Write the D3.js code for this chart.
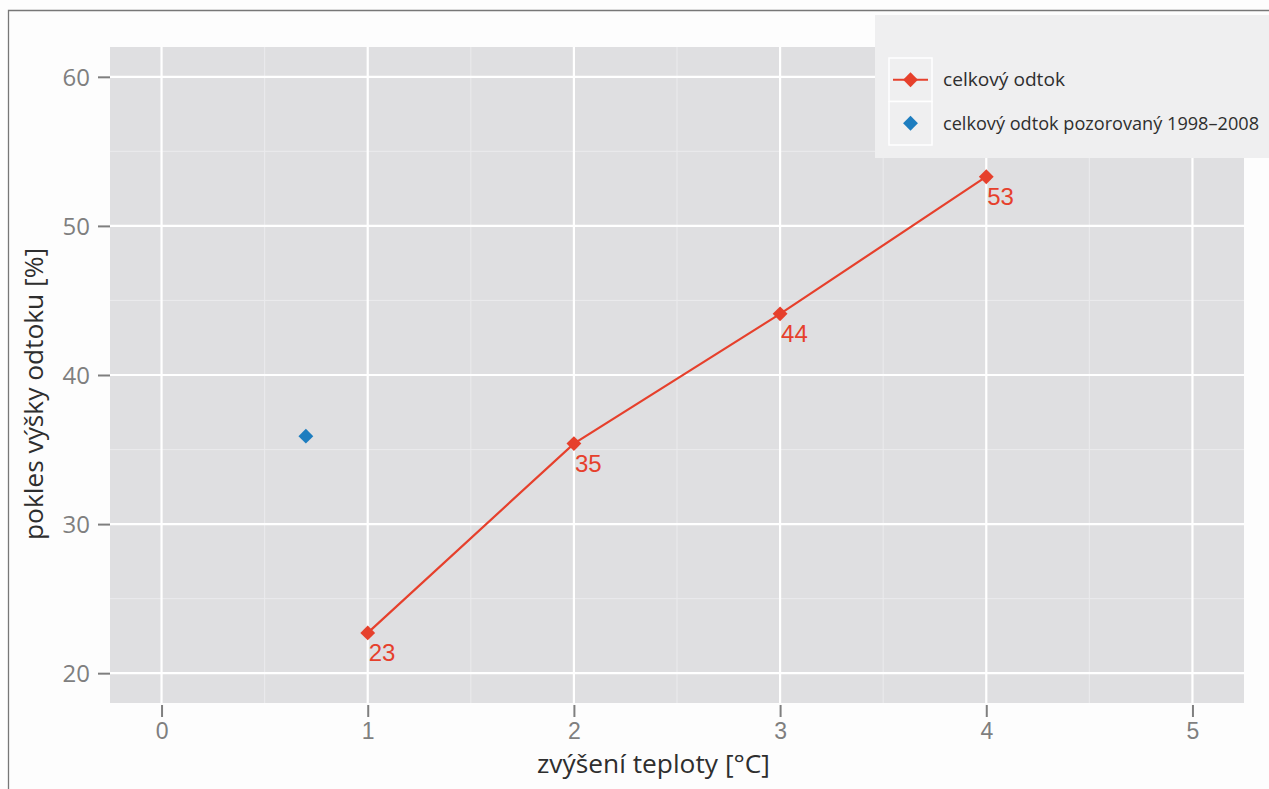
<!DOCTYPE html>
<html>
<head>
<meta charset="utf-8">
<script src="https://cdn.jsdelivr.net/npm/d3@7"></script>
<style>
  html, body { margin: 0; padding: 0; background: #fdfdfd; }
  svg { display: block; }
</style>
</head>
<body>
<svg id="chart" width="1269" height="789"></svg>
<script>
// Runoff decrease vs. temperature increase
const tempIncrease = [1, 2, 3, 4];
const runoffDecrease = [22.7, 35.4, 44.1, 53.3];
const observedTemp = [0.7];
const observedRunoff = [35.9];
const xTicks = [0, 1, 2, 3, 4, 5];
const yTicks = [20, 30, 40, 50, 60];
const xMinor = [0.5, 1.5, 2.5, 3.5, 4.5];
const yMinor = [25, 35, 45, 55];
const legendLabels = ["celkový odtok", "celkový odtok pozorovaný 1998–2008"];
const xTitle = "zvýšení teploty [°C]";
const yTitle = "pokles výšky odtoku [%]";

const RED = "#e6402c";
const BLUE = "#1d7dbf";
const TICK_GREY = "#7f7f7f";
const TITLE_FONT = "'Open Sans', 'Noto Sans', sans-serif";

const svg = d3.select("#chart");

// Frame line on the left and top
svg.append("path")
  .attr("d", "M8.5,789 V10.5 H1269")
  .attr("fill", "none")
  .attr("stroke", "#777")
  .attr("stroke-width", 1.3);

const panel = { left: 110, top: 47, right: 1244, bottom: 703 };

const x = d3.scaleLinear().domain([-0.25, 5.25]).range([panel.left, panel.right]);
const y = d3.scaleLinear().domain([18, 62]).range([panel.bottom, panel.top]);

// Panel background
svg.append("rect")
  .attr("x", panel.left).attr("y", panel.top)
  .attr("width", panel.right - panel.left)
  .attr("height", panel.bottom - panel.top)
  .attr("fill", "#dfdfe1");

const grid = svg.append("g");
// Minor grid
grid.selectAll(".mx").data(xMinor).join("line")
  .attr("x1", d => x(d)).attr("x2", d => x(d))
  .attr("y1", panel.top).attr("y2", panel.bottom)
  .attr("stroke", "#ebebed").attr("stroke-width", 1);
grid.selectAll(".my").data(yMinor).join("line")
  .attr("y1", d => y(d)).attr("y2", d => y(d))
  .attr("x1", panel.left).attr("x2", panel.right)
  .attr("stroke", "#ebebed").attr("stroke-width", 1);
// Major grid
grid.selectAll(".Mx").data(xTicks).join("line")
  .attr("x1", d => x(d)).attr("x2", d => x(d))
  .attr("y1", panel.top).attr("y2", panel.bottom)
  .attr("stroke", "#ffffff").attr("stroke-width", 2.2);
grid.selectAll(".My").data(yTicks).join("line")
  .attr("y1", d => y(d)).attr("y2", d => y(d))
  .attr("x1", panel.left).attr("x2", panel.right)
  .attr("stroke", "#ffffff").attr("stroke-width", 2.2);

// Axes
const xAxis = svg.append("g")
  .attr("transform", `translate(0,${panel.bottom + 2})`)
  .call(d3.axisBottom(x).tickValues(xTicks).tickFormat(d3.format("d")).tickSize(12).tickPadding(6));
xAxis.select(".domain").remove();
xAxis.selectAll("line").attr("stroke", TICK_GREY).attr("stroke-width", 2);
xAxis.selectAll("text")
  .attr("fill", TICK_GREY)
  .style("font-family", "'Liberation Sans', Arial, sans-serif")
  .style("font-size", "23px");

const yAxis = svg.append("g")
  .attr("transform", `translate(${panel.left},0)`)
  .call(d3.axisLeft(y).tickValues(yTicks).tickFormat(d3.format("d")).tickSize(12).tickPadding(8));
yAxis.select(".domain").remove();
yAxis.selectAll("line").attr("stroke", TICK_GREY).attr("stroke-width", 2);
yAxis.selectAll("text")
  .attr("fill", TICK_GREY)
  .attr("dy", "0.36em")
  .style("font-family", TITLE_FONT)
  .style("font-size", "24px");

// Axis titles
svg.append("text")
  .attr("x", 537)
  .attr("y", 773)
  .attr("textLength", 233)
  .attr("lengthAdjust", "spacingAndGlyphs")
  .attr("fill", "#2e2e2e")
  .style("font-family", TITLE_FONT)
  .style("font-size", "26px")
  .text(xTitle);

svg.append("text")
  .attr("transform", "translate(43,540) rotate(-90)")
  .attr("textLength", 292)
  .attr("lengthAdjust", "spacingAndGlyphs")
  .attr("fill", "#2e2e2e")
  .style("font-family", TITLE_FONT)
  .style("font-size", "26px")
  .text(yTitle);

const diamondPath = d3.symbol().type(d3.symbolSquare).size(110);

// Modelled series
const series = tempIncrease.map((t, i) => ({ t, v: runoffDecrease[i] }));
svg.append("path")
  .datum(series)
  .attr("fill", "none")
  .attr("stroke", RED)
  .attr("stroke-width", 2.2)
  .attr("d", d3.line().x(d => x(d.t)).y(d => y(d.v)));

svg.selectAll(".pt").data(series).join("path")
  .attr("d", diamondPath)
  .attr("transform", d => `translate(${x(d.t)},${y(d.v)}) rotate(45)`)
  .attr("fill", RED);

svg.selectAll(".lbl").data(series).join("text")
  .attr("x", d => x(d.t) + 1)
  .attr("y", d => y(d.v) + 28)
  .attr("fill", RED)
  .style("font-family", "'Liberation Sans', Arial, sans-serif")
  .style("font-size", "24px")
  .text(d => d3.format(".0f")(d.v));

// Observed point
const observed = observedTemp.map((t, i) => ({ t, v: observedRunoff[i] }));
svg.selectAll(".obs").data(observed).join("path")
  .attr("d", diamondPath)
  .attr("transform", d => `translate(${x(d.t)},${y(d.v)}) rotate(45)`)
  .attr("fill", BLUE);

// Legend
const legend = svg.append("g");
legend.append("rect")
  .attr("x", 875).attr("y", 15).attr("width", 394).attr("height", 143)
  .attr("fill", "#efeff0");

const keyX = 889, keyW = 43, keyH = 43.5, keyY0 = 58;
const labelWidths = [122, 316];
legendLabels.forEach((label, i) => {
  const ky = keyY0 + i * keyH;
  legend.append("rect")
    .attr("x", keyX).attr("y", ky).attr("width", keyW).attr("height", keyH)
    .attr("fill", "#efeff0").attr("stroke", "#ffffff").attr("stroke-width", 1.5);
  const cx = keyX + keyW / 2, cy = ky + keyH / 2;
  if (i === 0) {
    legend.append("line")
      .attr("x1", keyX + 4).attr("x2", keyX + keyW - 4)
      .attr("y1", cy).attr("y2", cy)
      .attr("stroke", RED).attr("stroke-width", 2.2);
  }
  legend.append("path")
    .attr("d", diamondPath)
    .attr("transform", `translate(${cx},${cy}) rotate(45)`)
    .attr("fill", i === 0 ? RED : BLUE);
  legend.append("text")
    .attr("x", 943).attr("y", cy)
    .attr("dy", "0.35em")
    .attr("textLength", labelWidths[i])
    .attr("lengthAdjust", "spacingAndGlyphs")
    .attr("fill", "#2e2e2e")
    .style("font-family", TITLE_FONT)
    .style("font-size", "18.5px")
    .text(label);
});
</script>
</body>
</html>
